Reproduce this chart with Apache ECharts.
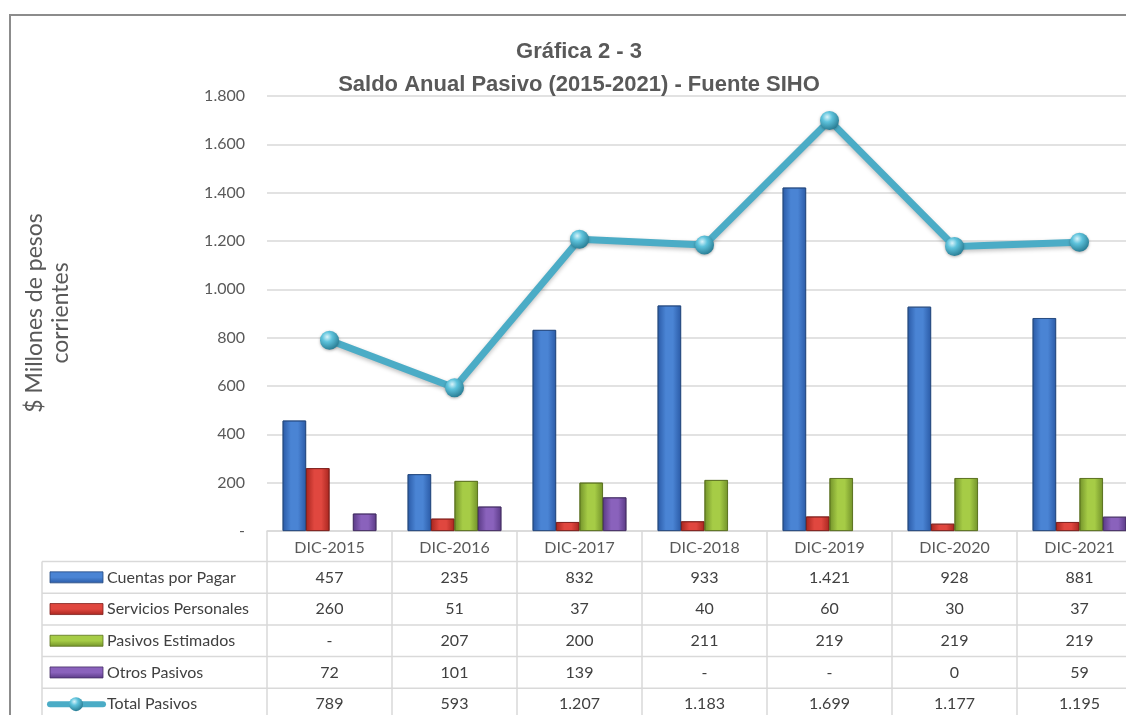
<!DOCTYPE html>
<html>
<head>
<meta charset="utf-8">
<script src="https://cdn.jsdelivr.net/npm/echarts@6/dist/echarts.min.js"></script>
<style>
  html, body { margin: 0; padding: 0; background: #ffffff; }
  #chart { width: 1126px; height: 715px; }
</style>
</head>
<body>
<div id="chart"></div>
<script>
// Saldo anual del pasivo por concepto, $ millones de pesos corrientes
const categories = ['DIC-2015', 'DIC-2016', 'DIC-2017', 'DIC-2018', 'DIC-2019', 'DIC-2020', 'DIC-2021'];
const cuentasPorPagar = [457, 235, 832, 933, 1421, 928, 881];
const serviciosPersonales = [260, 51, 37, 40, 60, 30, 37];
const pasivosEstimados = [null, 207, 200, 211, 219, 219, 219];
const otrosPasivos = [72, 101, 139, null, null, 0, 59];
const totalPasivos = [789, 593, 1207, 1183, 1699, 1177, 1195];
const seriesNames = ['Cuentas por Pagar', 'Servicios Personales', 'Pasivos Estimados', 'Otros Pasivos', 'Total Pasivos'];

const FONT = 'Lato, "Open Sans", sans-serif';
const GRID_LINE = '#d9d9d9';
const TEXT = '#595959';

// thousands separator "." ; missing values shown as "-"
function fmt(v) {
  if (v === null || v === undefined) return '-';
  return String(v).replace(/\B(?=(\d{3})+(?!\d))/g, '.');
}
// value axis: zero printed as "-"
function axisFmt(v) {
  return v === 0 ? '-' : fmt(v);
}

function barFill(edge, mid) {
  return new echarts.graphic.LinearGradient(0, 0, 1, 0, [
    { offset: 0, color: edge },
    { offset: 0.35, color: mid },
    { offset: 0.65, color: mid },
    { offset: 1, color: edge }
  ]);
}

const palette = [
  { edge: '#2a5aa6', mid: '#4a84d4', border: '#24497f' },
  { edge: '#a8261f', mid: '#e0473f', border: '#7f1f1c' },
  { edge: '#72922a', mid: '#a6cc46', border: '#5a7120' },
  { edge: '#5a3a86', mid: '#8a62bc', border: '#452e64' }
];
const lineColor = '#4bacc6';
const sphere = new echarts.graphic.RadialGradient(0.38, 0.32, 0.75, [
  { offset: 0, color: '#d9f3fa' },
  { offset: 0.35, color: '#5ec3dc' },
  { offset: 1, color: '#23758c' }
]);

const barData = [cuentasPorPagar, serviciosPersonales, pasivosEstimados, otrosPasivos];

const chart = echarts.init(document.getElementById('chart'), null, { renderer: 'canvas' });

const option = {
  backgroundColor: '#ffffff',
  animation: false,
  title: {
    text: 'Gráfica 2 - 3\nSaldo Anual Pasivo (2015-2021) - Fuente SIHO',
    left: 574,
    top: 30,
    textAlign: 'center',
    textStyle: {
      fontFamily: '"Liberation Sans Narrow", "Arial Narrow", "Liberation Sans", sans-serif',
      fontWeight: 'bold',
      fontSize: 22,
      lineHeight: 33,
      color: TEXT
    }
  },
  // plot area runs past the right edge of the page, as the last column is cut off
  grid: { left: 267, top: 96, width: 875, height: 435, containLabel: false, outerBoundsMode: 'none' },
  xAxis: {
    type: 'category',
    data: categories,
    boundaryGap: true,
    axisLine: { show: true, lineStyle: { color: GRID_LINE, width: 1.5 } },
    axisTick: { show: true, inside: false, length: 31, alignWithLabel: false, lineStyle: { color: GRID_LINE, width: 1.5 } },
    axisLabel: { color: TEXT, fontFamily: FONT, fontSize: 16, margin: 9 },
    splitLine: { show: false }
  },
  yAxis: {
    type: 'value',
    min: 0,
    max: 1800,
    interval: 200,
    axisLine: { show: false },
    axisTick: { show: false },
    axisLabel: { color: TEXT, fontFamily: FONT, fontSize: 16, margin: 22, formatter: axisFmt },
    splitLine: { lineStyle: { color: GRID_LINE, width: 1.5 } }
  },
  series: barData.map((d, i) => ({
    name: seriesNames[i],
    type: 'bar',
    // a zero value leaves no visible bar (no outline either)
    data: d.map(v => (v === 0 ? { value: 0, itemStyle: { borderWidth: 0, opacity: 0 } } : v)),
    barGap: '0%',
    barCategoryGap: '25%',
    itemStyle: {
      color: barFill(palette[i].edge, palette[i].mid),
      borderColor: palette[i].border,
      borderWidth: 0.8
    }
  })).concat([{
    name: seriesNames[4],
    type: 'line',
    data: totalPasivos,
    symbol: 'circle',
    symbolSize: 19,
    z: 5,
    lineStyle: { color: lineColor, width: 7, shadowColor: 'rgba(0,0,0,0.25)', shadowBlur: 4, shadowOffsetY: 2 },
    itemStyle: { color: sphere, borderWidth: 0, shadowColor: 'rgba(0,0,0,0.3)', shadowBlur: 3, shadowOffsetY: 1 }
  }])
};

chart.setOption(option);

// Data table under the plot: legend keys + values per year
const rowValues = [cuentasPorPagar, serviciosPersonales, pasivosEstimados, otrosPasivos, totalPasivos];
const graphics = [];
const tableLeft = 42;
const axisY = chart.convertToPixel({ yAxisIndex: 0 }, 0);
const firstRowTop = axisY + 30.5;
const rowH = 31.7;
const c0 = chart.convertToPixel({ xAxisIndex: 0 }, 0);
const c1 = chart.convertToPixel({ xAxisIndex: 0 }, 1);
const band = c1 - c0;
const colLeft = c0 - band / 2;
const tableRight = colLeft + band * categories.length;
const lineStyle = { stroke: GRID_LINE, lineWidth: 1.5 };

// horizontal rules
for (let r = 0; r <= rowValues.length; r++) {
  const y = firstRowTop + r * rowH;
  graphics.push({ type: 'line', shape: { x1: tableLeft, y1: y, x2: tableRight, y2: y }, style: lineStyle, silent: true });
}
// vertical rules
const tableBottom = firstRowTop + rowValues.length * rowH;
graphics.push({ type: 'line', shape: { x1: tableLeft, y1: firstRowTop, x2: tableLeft, y2: tableBottom }, style: lineStyle, silent: true });
for (let c = 0; c <= categories.length; c++) {
  const x = colLeft + c * band;
  graphics.push({ type: 'line', shape: { x1: x, y1: firstRowTop, x2: x, y2: tableBottom }, style: lineStyle, silent: true });
}

rowValues.forEach((vals, r) => {
  const cy = firstRowTop + r * rowH + rowH / 2;
  // legend key
  if (r < 4) {
    graphics.push({
      type: 'rect',
      shape: { x: 50, y: cy - 5.5, width: 53, height: 11 },
      style: {
        fill: new echarts.graphic.LinearGradient(0, 0, 0, 1, [
          { offset: 0, color: palette[r].mid },
          { offset: 0.5, color: palette[r].mid },
          { offset: 1, color: palette[r].edge }
        ]),
        stroke: palette[r].border,
        lineWidth: 0.8
      },
      silent: true
    });
  } else {
    graphics.push({ type: 'line', shape: { x1: 50, y1: cy, x2: 103, y2: cy }, style: { stroke: lineColor, lineWidth: 6, lineCap: 'round' }, silent: true });
    graphics.push({ type: 'circle', shape: { cx: 76, cy: cy, r: 7 }, style: { fill: sphere }, silent: true });
  }
  graphics.push({
    type: 'text',
    x: 107, y: cy,
    style: { text: seriesNames[r], fill: '#404040', font: '16px ' + FONT, textAlign: 'left', textVerticalAlign: 'middle' },
    silent: true
  });
  vals.forEach((v, c) => {
    const cx = chart.convertToPixel({ xAxisIndex: 0 }, c);
    graphics.push({
      type: 'text',
      x: cx, y: cy,
      style: { text: fmt(v), fill: '#404040', font: '16px ' + FONT, textAlign: 'center', textVerticalAlign: 'middle' },
      silent: true
    });
  });
});

// value axis title
graphics.push({
  type: 'text',
  x: 48, y: 313,
  rotation: Math.PI / 2,
  style: { text: '$ Millones de pesos\ncorrientes', fill: TEXT, font: '23px ' + FONT, textAlign: 'center', textVerticalAlign: 'middle', lineHeight: 26 },
  silent: true
});

// chart frame
graphics.push({ type: 'rect', shape: { x: 10, y: 15, width: 1200, height: 800 }, style: { fill: 'none', stroke: '#8c8c8c', lineWidth: 2 }, silent: true, z: 100 });

chart.setOption({ graphic: graphics });
</script>
</body>
</html>
